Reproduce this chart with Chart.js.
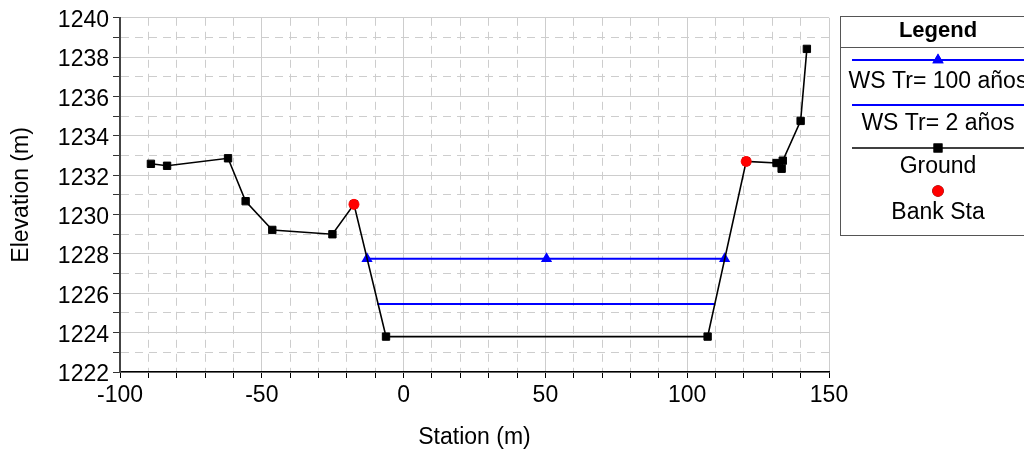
<!DOCTYPE html>
<html>
<head>
<meta charset="utf-8">
<script src="https://cdn.jsdelivr.net/npm/chart.js@4"></script>
<style>
  html, body { margin: 0; padding: 0; background: #fff; }
  #wrap { width: 1024px; height: 453px; position: relative; }
</style>
</head>
<body>
<div id="wrap"><canvas id="xs"></canvas></div>
<script>
// station / elevation
const groundSta = [-89.1, -83.4, -61.9, -55.7, -46.3, -25.1, -17.5, -6.2, 107.2, 120.8, 131.5, 133.3, 133.7, 140.0, 142.2];
const groundElev = [1232.58, 1232.48, 1232.86, 1230.68, 1229.22, 1229.0, 1230.52, 1223.8, 1223.8, 1232.7, 1232.62, 1232.33, 1232.74, 1234.76, 1238.42];
const bankSta = [-17.5, 120.8];
const bankElev = [1230.52, 1232.7];
const ws100Sta = [-12.9, 50.4, 113.2];
const ws100Elev = [1227.76, 1227.76, 1227.76];
const ws2Sta = [-9.3, 109.6];
const ws2Elev = [1225.46, 1225.46];
const seriesLabels = ["WS Tr= 100 años", "WS Tr= 2 años", "Ground", "Bank Sta"];

const FONT = "'Liberation Sans', Arial, sans-serif";
const pts = (xs, ys) => xs.map((x, i) => ({ x, y: ys[i] }));

// legend box drawn on the canvas, right of the plot
const boxLegend = {
  id: "boxLegend",
  afterDraw(chart) {
    const ctx = chart.ctx;
    const L = 840, T = 16, W = 196, H = 219, cx = L + W / 2;
    ctx.save();
    ctx.strokeStyle = "#555";
    ctx.lineWidth = 1;
    ctx.strokeRect(L + 0.5, T + 0.5, W, H);
    ctx.beginPath();
    ctx.moveTo(L, 47.5);
    ctx.lineTo(L + W, 47.5);
    ctx.stroke();
    ctx.fillStyle = "#000";
    ctx.textAlign = "center";
    ctx.textBaseline = "middle";
    ctx.font = "bold 22px " + FONT;
    ctx.fillText("Legend", cx, 31);

    const rows = [
      { line: 60, text: 82 },
      { line: 105, text: 124 },
      { line: 148, text: 167 },
      { line: 191, text: 213 },
    ];
    chart.data.datasets.forEach((ds, i) => {
      const r = rows[i];
      if (ds.showLine !== false) {
        ctx.strokeStyle = ds.borderColor;
        ctx.lineWidth = ds.borderWidth;
        ctx.beginPath();
        ctx.moveTo(852, r.line);
        ctx.lineTo(1030, r.line);
        ctx.stroke();
      }
      if (ds.pointRadius > 0) {
        Chart.helpers.drawPoint(ctx, {
          pointStyle: ds.pointStyle,
          radius: ds.pointRadius,
          borderWidth: 1,
          rotation: 0,
        }, cx, r.line);
        ctx.fillStyle = ds.pointBackgroundColor;
        ctx.strokeStyle = ds.pointBorderColor;
        ctx.fill();
        ctx.stroke();
      }
      ctx.fillStyle = "#000";
      ctx.font = "23px " + FONT;
      ctx.fillText(ds.label, cx, r.text);
    });
    ctx.restore();
  },
};

const gridColor = "#cdcdcd";

new Chart(document.getElementById("xs"), {
  type: "scatter",
  data: {
    datasets: [
      {
        label: seriesLabels[0],
        data: pts(ws100Sta, ws100Elev),
        showLine: true,
        borderColor: "#0000ff",
        borderWidth: 2,
        pointStyle: "triangle",
        pointRadius: 4.5,
        pointBackgroundColor: "#0000ff",
        pointBorderColor: "#0000ff",
        order: 3,
      },
      {
        label: seriesLabels[1],
        data: pts(ws2Sta, ws2Elev),
        showLine: true,
        borderColor: "#0000ff",
        borderWidth: 2,
        pointRadius: 0,
        order: 4,
      },
      {
        label: seriesLabels[2],
        data: pts(groundSta, groundElev),
        showLine: true,
        borderColor: "#000",
        borderWidth: 1.6,
        pointStyle: "rect",
        pointRadius: 5.2,
        pointBackgroundColor: "#000",
        pointBorderColor: "#000",
        pointBorderWidth: 1,
        order: 2,
      },
      {
        label: seriesLabels[3],
        data: pts(bankSta, bankElev),
        showLine: false,
        borderColor: "#ff0000",
        pointStyle: "circle",
        pointRadius: 5,
        pointBackgroundColor: "#ff0000",
        pointBorderColor: "#ff0000",
        order: 1,
      },
    ],
  },
  options: {
    responsive: true,
    maintainAspectRatio: false,
    animation: false,
    layout: { padding: { top: 16, right: 195, left: 0, bottom: 0 } },
    plugins: { legend: { display: false }, tooltip: { enabled: false } },
    scales: {
      x: {
        type: "linear",
        min: -100,
        max: 150,
        afterFit(s) { s.height = 81; },
        ticks: {
          stepSize: 10,
          autoSkip: false,
          maxRotation: 0,
          color: "#000",
          padding: 4,
          font: { family: FONT, size: 23 },
          callback: (v) => (v % 50 === 0 ? String(v) : ""),
        },
        grid: {
          color: gridColor,
          lineWidth: 1,
          tickColor: "#000",
          tickLength: 6,
        },
        border: {
          color: "#000",
          width: 1.5,
          dash: (c) => (c.tick && c.tick.value % 50 !== 0 ? [8, 6] : []),
        },
        title: {
          display: true,
          text: "Station (m)",
          color: "#000",
          font: { family: FONT, size: 23 },
          padding: { top: 0, bottom: 2 },
        },
      },
      y: {
        type: "linear",
        min: 1222,
        max: 1240,
        afterFit(s) { s.width = 120; },
        ticks: {
          stepSize: 1,
          autoSkip: false,
          color: "#000",
          padding: 4,
          labelOffset: 3,
          font: { family: FONT, size: 23 },
          callback: (v) => (v % 2 === 0 ? String(v) : ""),
        },
        grid: {
          color: gridColor,
          lineWidth: 1,
          tickColor: "#333",
          tickLength: 7,
        },
        border: {
          color: "#444",
          width: 2,
          dash: (c) => (c.tick && c.tick.value % 2 !== 0 ? [8, 6] : []),
        },
        title: {
          display: true,
          text: "Elevation (m)",
          color: "#000",
          font: { family: FONT, size: 23 },
          padding: { top: 8, bottom: 0 },
        },
      },
    },
  },
  plugins: [boxLegend],
});
</script>
</body>
</html>
